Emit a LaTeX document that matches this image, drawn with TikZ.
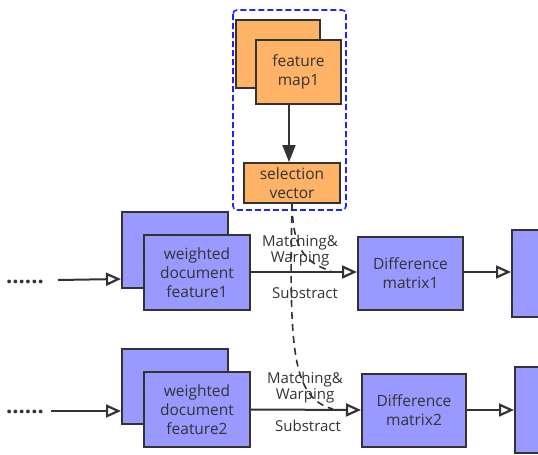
\documentclass[tikz,border=0pt]{standalone}
\usepackage{fontspec}
\setmainfont{Open Sans}
\usetikzlibrary{arrows.meta}
\definecolor{edgegray}{HTML}{333333}
\definecolor{boxorange}{HTML}{FFB366}
\definecolor{boxblue}{HTML}{9999FF}
\definecolor{groupblue}{HTML}{2222FF}
\tikzset{
  box/.style={draw=edgegray, line width=2pt, inner sep=0pt, align=center,
    font=\fontsize{15.5}{19}\selectfont, text=edgegray},
  orangebox/.style={box, fill=boxorange},
  bluebox/.style={box, fill=boxblue},
  flow/.style={draw=edgegray, line width=2pt, -{Triangle[open, length=15pt, width=13pt, line width=2.2pt]}},
  solidflow/.style={draw=edgegray, line width=2pt, -{Triangle[length=17pt, width=13pt]}},
  hint/.style={draw=edgegray, line width=1.6pt, dash pattern=on 7pt off 5pt},
  lbl/.style={font=\fontsize{15}{16}\selectfont, text=edgegray, align=center, inner sep=0pt},
  dotrow/.style={font=\bfseries\fontsize{22}{22}\selectfont, text=edgegray, inner sep=0pt},
}
\begin{document}
\begin{tikzpicture}[x=1pt, y=-1pt]
\useasboundingbox (0,0) rectangle (538,455);

% selection group
\draw[groupblue, line width=1.6pt, dash pattern=on 6pt off 3pt, rounded corners=4pt] (233,10) rectangle (346,210);
\node[orangebox, minimum width=84pt, minimum height=68pt] (fmback) at (278,54) {};
\node[orangebox, minimum width=85pt, minimum height=64pt] (fm) at (298.5,72) {feature\\map1};
\node[orangebox, minimum width=96pt, minimum height=40pt] (sel) at (292,183) {selection\\vector};
\draw[solidflow] (fm.south -| 289,0) -- (sel.north -| 289,0);

% first row
\node[bluebox, minimum width=106pt, minimum height=76pt] (w1back) at (175,250) {};
\node[bluebox, minimum width=106pt, minimum height=75pt] (w1) at (197,272.5) {weighted\\document\\feature1};
\node[bluebox, minimum width=105pt, minimum height=73pt] (d1) at (410.5,273.5) {Difference\\matrix1};
\node[bluebox, minimum width=29pt, minimum height=87pt, anchor=west] (r1) at (511,273.5) {};
\node[dotrow] (dots1) at (25,282) {......};
\coordinate (in1) at (58,280);
\draw[flow] (in1) -- (w1back.west |- 0,279);
\draw[flow] (w1.east |- 0,272) -- (d1.west |- 0,272);
\draw[flow] (d1.east |- 0,272) -- (r1.west |- 0,272);
\node[lbl] (mw1) at (300,251) {Matching\&\\Warping};
\node[lbl] (sub1) at (305,293) {Substract};

% second row
\node[bluebox, minimum width=106pt, minimum height=75pt] (w2back) at (175,386.5) {};
\node[bluebox, minimum width=106pt, minimum height=75pt] (w2) at (197,409.5) {weighted\\document\\feature2};
\node[bluebox, minimum width=104pt, minimum height=73pt] (d2) at (414,410.5) {Difference\\matrix2};
\node[bluebox, minimum width=26pt, minimum height=86pt, anchor=west] (r2) at (514,410) {};
\node[dotrow] (dots2) at (25,412) {......};
\coordinate (in2) at (51,411);
\draw[flow] (in2) -- (w2back.west |- 0,411);
\draw[flow] (w2.east |- 0,409.5) -- (d2.west |- 0,410);
\draw[flow] (d2.east |- 0,410) -- (r2.west |- 0,410);
\node[lbl] (mw2) at (305,388) {Matching\&\\Warping};
\node[lbl] (sub2) at (308,426) {Substract};

% selection vector feeding both subtractions
\coordinate (m1) at (331,271);
\coordinate (m2) at (333,409);
\draw[hint] (sel.south) .. controls (293,245) and (302,262) .. (m1);
\draw[hint] (sel.south) .. controls (289,350) and (292,398) .. (m2);
\end{tikzpicture}
\end{document}
